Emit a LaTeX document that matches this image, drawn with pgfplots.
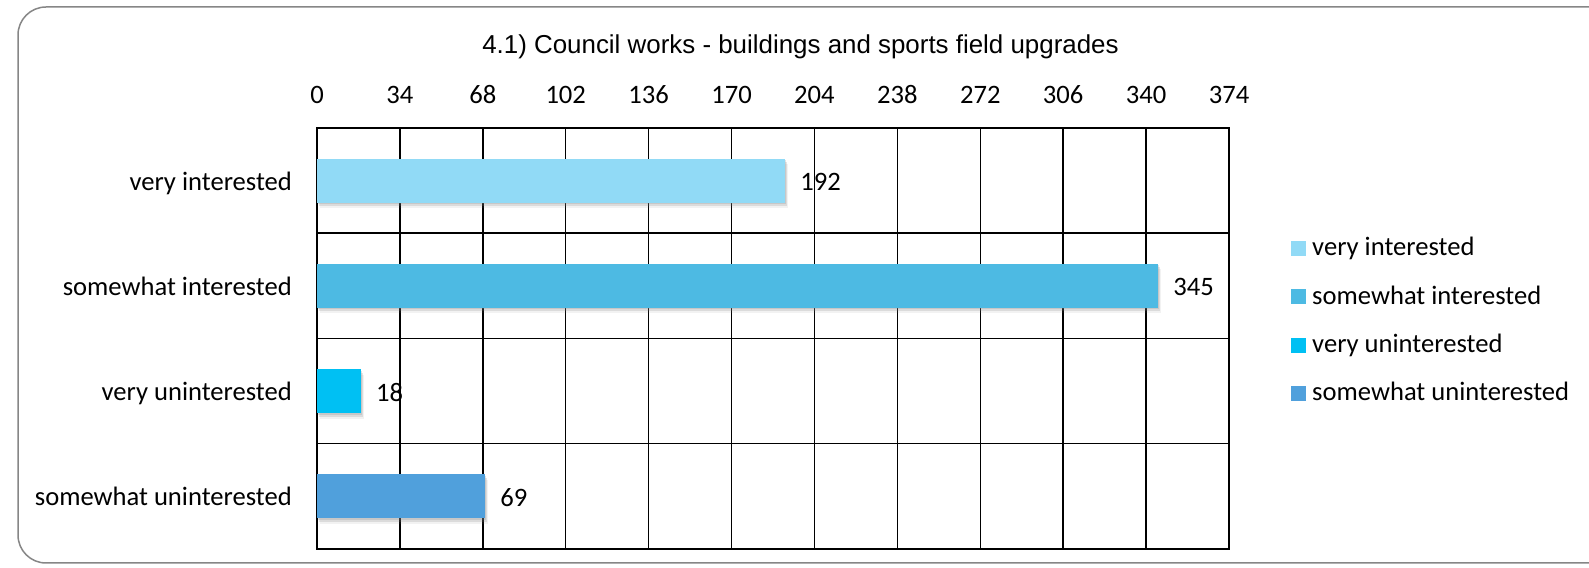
\documentclass[border=0pt]{standalone}
\usepackage{fontspec}
\setmainfont{Carlito}
\newfontfamily\arial{Liberation Sans}
\usepackage{pgfplots}
\pgfplotsset{compat=1.18}
\usetikzlibrary{shadows}
\definecolor{c1}{RGB}{145,218,246}
\definecolor{c2}{RGB}{77,186,227}
\definecolor{c3}{RGB}{0,192,243}
\definecolor{c4}{RGB}{80,160,220}
\definecolor{framegray}{RGB}{134,134,134}
\newcommand{\lab}{\fontsize{26.7}{30}\selectfont}
\tikzset{barshadow/.style={drop shadow={shadow xshift=1bp, shadow yshift=-1.5bp, opacity=0.22}, drop shadow={shadow xshift=2bp, shadow yshift=-3.5bp, opacity=0.2}, drop shadow={shadow xshift=3bp, shadow yshift=-5.5bp, opacity=0.1}}}
\begin{document}
\begin{tikzpicture}
\path[use as bounding box] (0bp,0bp) rectangle (1589bp,568bp);
\clip (0bp,0bp) rectangle (1589bp,568bp);
\draw[framegray, line width=1.5bp, rounded corners=28bp] (18bp,5bp) rectangle (1650bp,561bp);
\node[font=\arial\fontsize{26}{30}\selectfont, anchor=base] at (800.5bp,514.7bp) {4.1) Council works - buildings and sports field upgrades};
\begin{axis}[
  at={(317bp,19bp)}, anchor=south west,
  scale only axis, width=912bp, height=421bp,
  xmin=0, xmax=374, ymin=-0.5, ymax=3.5,
  xtick={0,34,68,102,136,170,204,238,272,306,340,374},
  xticklabel pos=upper, xtick pos=upper,
  /pgf/number format/assume math mode=true,
  xticklabel style={anchor=center, yshift=33.3bp, font=\lab},
  ytick={0,1,2,3},
  yticklabels={somewhat uninterested, very uninterested, somewhat interested, very interested},
  yticklabel style={anchor=base east, inner sep=0pt, xshift=-25bp, yshift=-9.5bp, font=\lab},
  minor ytick={0.5,1.5,2.5},
  xmajorgrids, yminorgrids,
  major grid style={black, line width=1.5bp},
  minor grid style={black, line width=1.5bp},
  major tick length=0pt, minor tick length=0pt,
  axis line style={black, line width=1.5bp},
  xbar, bar width=44bp, bar shift=0pt,
  nodes near coords,
  nodes near coords style={anchor=west, inner sep=0pt, xshift=15bp, yshift=-1.5bp, font=\lab, black},
  legend image code/.code={\fill[#1, draw=none] (0bp,0bp) rectangle (14.7bp,14.7bp);},
  legend cell align=left,
  legend style={at={(axis description cs:1.068,0.7394)}, anchor=north west,
    draw=none, fill=none, inner sep=0pt, outer sep=0pt,
    row sep=24.4bp, column sep=6.5bp, font=\lab,
    cells={anchor=base west},
    nodes={inner sep=0pt, text height=18bp, text depth=6bp}},
]
\addplot[fill=c1, draw=none, forget plot, barshadow] coordinates {(192,3)};
\addplot[fill=c2, draw=none, forget plot, barshadow] coordinates {(345,2)};
\addplot[fill=c3, draw=none, forget plot, barshadow] coordinates {(18,1)};
\addplot[fill=c4, draw=none, forget plot, barshadow] coordinates {(69,0)};
\addlegendimage{fill=c1, draw=none}
\addlegendentry{very interested}
\addlegendimage{fill=c2, draw=none}
\addlegendentry{somewhat interested}
\addlegendimage{fill=c3, draw=none}
\addlegendentry{very uninterested}
\addlegendimage{fill=c4, draw=none}
\addlegendentry{somewhat uninterested}
\end{axis}
\end{tikzpicture}
\end{document}
